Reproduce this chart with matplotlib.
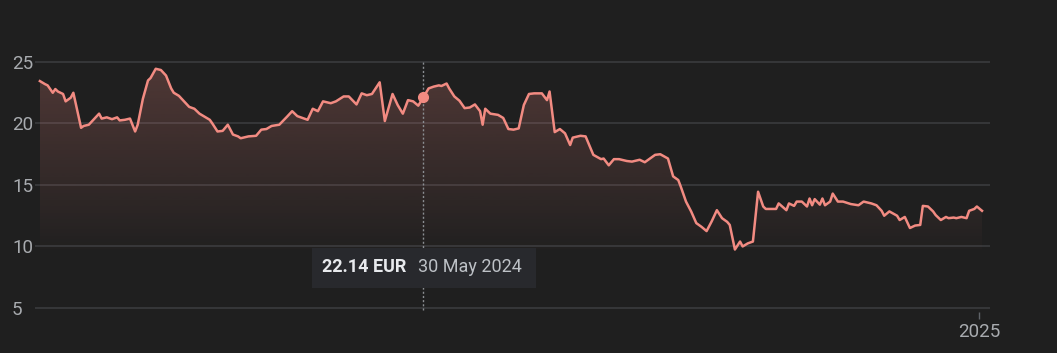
import numpy as np
import matplotlib
matplotlib.use("Agg")
import matplotlib.pyplot as plt
import matplotlib.dates as mdates
from matplotlib.patches import Polygon, Rectangle

# ---- data (day offsets from 2 Jan 2024, closing price in EUR) ----
start_date = np.datetime64("2024-01-02")
days = [0, 2, 3, 5, 6, 7, 9, 10, 12, 13, 16, 17, 19, 21, 23, 24, 26, 28, 30, 31,
        33, 35, 37, 38, 40, 42, 43, 45, 47, 49, 51, 52, 54, 56, 58, 60, 62, 64, 66, 67,
        69, 71, 73, 75, 77, 78, 81, 84, 86, 88, 90, 93, 96, 98, 100, 104, 106, 108, 110, 113,
        115, 118, 120, 123, 125, 127, 129, 132, 134, 137, 139, 141, 143, 145, 147, 149, 151, 153, 155, 156,
        158, 159, 161, 163, 165, 167, 169, 171, 172, 173, 175, 178, 180, 182, 184, 186, 188, 190, 192, 195,
        197, 198, 200, 202, 204, 206, 207, 210, 212, 215, 218, 219, 221, 223, 225, 228, 230, 233, 235, 237,
        239, 241, 244, 246, 248, 249, 251, 253, 255, 257, 259, 261, 263, 265, 267, 268, 270, 272, 273, 275,
        277, 279, 281, 282, 286, 287, 290, 291, 293, 294, 296, 298, 299, 300, 301, 303, 304, 305, 307, 308,
        310, 312, 315, 318, 320, 323, 325, 327, 328, 330, 333, 334, 336, 338, 340, 342, 343, 345, 347, 348,
        350, 352, 353, 355, 356, 358, 360, 361, 363, 364, 366]
prices = [23.45, 23.2, 23.1, 22.5, 22.8, 22.6, 22.4, 21.8, 22.1, 22.5, 19.65, 19.8, 19.9, 20.35, 20.8, 20.4, 20.5, 20.35, 20.5, 20.25,
          20.3, 20.4, 19.35, 19.9, 22.0, 23.5, 23.7, 24.45, 24.35, 23.9, 22.85, 22.5, 22.25, 21.8, 21.35, 21.2, 20.8, 20.55, 20.3, 20.0,
          19.35, 19.4, 19.9, 19.1, 18.95, 18.8, 18.95, 19.0, 19.5, 19.55, 19.8, 19.9, 20.55, 21.0, 20.6, 20.3, 21.2, 21.0, 21.8, 21.65,
          21.8, 22.2, 22.2, 21.55, 22.45, 22.3, 22.4, 23.35, 20.2, 22.4, 21.5, 20.8, 21.9, 21.8, 21.45, 22.14, 22.85, 23.0, 23.1, 23.05,
          23.25, 22.85, 22.2, 21.85, 21.25, 21.3, 21.55, 21.0, 19.9, 21.2, 20.8, 20.7, 20.45, 19.55, 19.5, 19.6, 21.5, 22.4, 22.45, 22.45,
          21.9, 22.6, 19.3, 19.55, 19.2, 18.25, 18.85, 19.0, 18.95, 17.45, 17.1, 17.15, 16.6, 17.1, 17.1, 16.95, 16.9, 17.05, 16.85, 17.15,
          17.45, 17.5, 17.15, 15.7, 15.4, 14.85, 13.65, 12.85, 11.9, 11.6, 11.25, 12.05, 12.95, 12.3, 12.0, 11.75, 9.75, 10.4, 10.0, 10.25,
          10.4, 14.45, 13.25, 13.05, 13.05, 13.5, 12.95, 13.5, 13.3, 13.65, 13.65, 13.25, 13.9, 13.35, 13.85, 13.4, 13.9, 13.35, 13.65, 14.3,
          13.65, 13.65, 13.45, 13.35, 13.65, 13.5, 13.35, 12.9, 12.5, 12.85, 12.5, 12.15, 12.4, 11.5, 11.7, 11.75, 13.3, 13.25, 12.85, 12.55,
          12.15, 12.4, 12.3, 12.35, 12.3, 12.4, 12.3, 12.9, 13.05, 13.25, 12.9]
y_ticks = [5, 10, 15, 20, 25]
x_tick_dates = ["2025-01-01"]
x_tick_labels = ["2025"]
hover_date = "2024-05-30"
hover_price = 22.14
hover_text_price = "22.14 EUR"
hover_text_date = "30 May 2024"

# ---- style ----
BG = "#1f1f1f"
LINE = "#f28b82"
GRID = "#3a3b3e"
TICK = "#a8abaf"
plt.rcParams["font.family"] = ["Roboto", "DejaVu Sans"]

dates = start_date + np.array(days).astype("timedelta64[D]")
x = mdates.date2num(dates)
y = np.array(prices)

fig = plt.figure(figsize=(10.57, 3.53), dpi=100, facecolor=BG)
ax = fig.add_axes([35 / 1057, 1 - 312 / 353, 955 / 1057, 257 / 353])
ax.set_facecolor(BG)
x0 = mdates.date2num(start_date) - 1.9
x1 = mdates.date2num(start_date) + 369.1
ax.set_xlim(x0, x1)
ax.set_ylim(4.67, 25.57)
for s in ax.spines.values():
    s.set_visible(False)

# grid
for t in y_ticks:
    ax.axhline(t, color=GRID, lw=1.2, zorder=1)

# gradient fill
ymin_fill = min(prices)
grad = np.linspace(0.23, 0.015, 256).reshape(-1, 1)
rgba = np.zeros((256, 1, 4))
r, g, b = matplotlib.colors.to_rgb(LINE)
rgba[..., 0] = r
rgba[..., 1] = g
rgba[..., 2] = b
rgba[..., 3] = grad
top = max(prices)
im = ax.imshow(rgba, aspect="auto", extent=[x[0], x[-1], ymin_fill, top],
               origin="upper", zorder=2, interpolation="bilinear")
verts = np.vstack([[x[0], ymin_fill], np.column_stack([x, y]), [x[-1], ymin_fill]])
clip = Polygon(verts, closed=True, transform=ax.transData, facecolor="none", edgecolor="none")
ax.add_patch(clip)
im.set_clip_path(clip)

ax.plot(x, y, color=LINE, lw=1.8, zorder=4, solid_joinstyle="round")

# hover line + marker
hx = mdates.date2num(np.datetime64(hover_date))
ax.plot([hx, hx], [4.85, 25.0], color="#8a8d91", lw=1, ls=(0, (1.5, 1.5)), zorder=3)
ax.plot([hx], [hover_price], "o", color=LINE, ms=7, zorder=5)

# ticks
ax.set_yticks(y_ticks)
ax.set_yticklabels([str(t) for t in y_ticks])
ax.tick_params(axis="y", length=0, pad=23 / 1.389, labelcolor=TICK, labelsize=13.5)
for lab in ax.get_yticklabels():
    lab.set_horizontalalignment("left")
ax.set_xticks(mdates.date2num(np.array(x_tick_dates, dtype="datetime64[D]")))
ax.set_xticklabels(x_tick_labels)
ax.tick_params(axis="x", length=5, width=1, color="#5f6368", pad=3, labelcolor=TICK, labelsize=13.5)

# tooltip box (figure coords in pixels)
W, H = 1057, 353
box = Rectangle((312 / W, 1 - 288 / H), 224 / W, 40 / H, transform=fig.transFigure,
                facecolor="#28292d", edgecolor="none", zorder=10)
fig.patches.append(box)
fig.text(322 / W, 1 - 267 / H, hover_text_price, color="#e8eaed", fontsize=13,
         fontweight="bold", va="center", ha="left", zorder=11)
fig.text(418 / W, 1 - 267 / H, hover_text_date, color="#bdc1c6", fontsize=13,
         va="center", ha="left", zorder=11)

fig.savefig("out.png", dpi=100, facecolor=BG)
